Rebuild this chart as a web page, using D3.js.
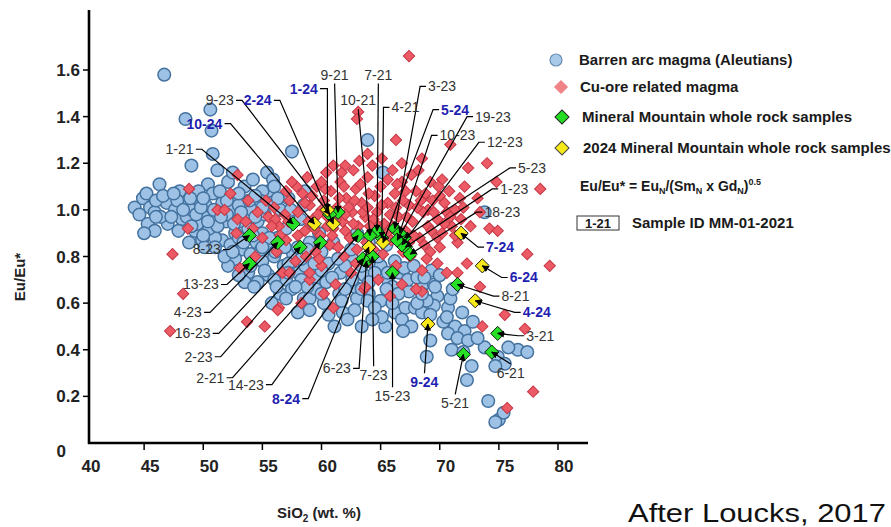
<!DOCTYPE html>
<meta charset="utf-8">
<script src="https://d3js.org/d3.v7.min.js"></script>
<style>
  body { margin: 0; background: #fff; }
  svg text { font-family: 'Liberation Sans Narrow', 'Arial Narrow', 'Liberation Sans', sans-serif; }
</style>
<div id="my_dataviz"></div>
<script>
  // ---- data (SiO2 wt.%, Eu/Eu*) ----
  var barrenPts = [
    [46.7,1.58],[48.5,1.39],[50.6,1.43],[50.7,1.34],[49.0,1.19],[50.8,1.24],[57.5,1.25],[46.3,1.11],[51.2,1.17],[55.4,1.16],
    [63.9,1.30],[65.2,1.16],[55.9,1.13],[55.5,1.08],[58.6,1.08],[73.8,0.99],
    [44.2,1.01],[44.9,1.05],[45.5,1.01],[45.9,0.99],[45.3,0.94],[45.9,0.91],[46.9,1.03],[47.6,1.00],[48.2,0.96],[49.3,0.91],
    [50.1,0.97],[50.4,1.11],[52.1,1.12],[52.7,1.06],[51.6,1.03],[49.3,1.05],[48.5,1.03],[49.9,0.87],[51.6,0.87],[52.7,0.90],
    [53.3,0.83],[52.7,0.79],[53.8,0.73],[53.5,0.69],[54.6,0.69],[52.1,0.76],[51.0,0.88],[50.1,0.84],[48.0,1.08],[48.6,0.97],
    [49.0,1.00],[49.6,1.08],[50.2,1.02],[50.8,1.07],[51.3,0.99],[51.9,0.95],[52.4,1.00],[53.0,1.02],[53.5,0.97],[54.1,1.00],
    [54.6,0.95],[55.2,0.98],[49.5,0.94],[50.5,0.92],[51.2,0.93],[52.3,0.85],[53.0,0.88],[53.8,0.92],[54.5,0.86],[55.0,0.90],
    [55.7,0.85],[56.3,0.88],[54.0,0.81],[55.0,0.78],[56.0,0.80],[56.8,0.76],[55.5,0.72],[57.0,0.70],[58.0,0.73],[57.5,0.66],
    [56.5,0.64],[55.8,0.60],[58.5,0.62],[52.5,1.16],[53.5,1.10],[54.2,1.13],[55.0,1.08],[56.0,1.10],[55.8,1.03],[56.5,1.00],
    [57.2,1.05],[57.8,0.98],[58.5,1.02],[47.0,0.94],[47.9,0.91],[46.4,0.97],[48.8,0.86],[54.3,0.67],[53.0,0.95],[54.8,1.04],
    [52.0,0.98],
    [44.6,0.98],[45.2,1.07],[46.0,1.04],[46.6,1.06],[47.3,0.97],[47.8,1.04],[48.3,1.00],[48.9,1.05],[49.4,0.98],[49.8,1.01],
    [50.4,0.95],[50.9,1.00],[51.5,0.97],[52.0,1.04],[52.6,0.94],[53.2,0.99],[53.9,1.04],[54.4,0.97],[55.0,1.01],[49.0,0.93],
    [50.0,0.89],[51.0,0.84],[51.8,0.80],[52.5,0.82],[53.4,0.86],[54.2,0.89],[54.9,0.83],[55.6,0.88],[56.4,0.84],[53.0,0.72],
    [54.0,0.76],[55.2,0.74],[56.0,0.70],[57.0,0.62],[56.2,0.67],[58.0,0.56],[59.0,0.62],[57.6,0.81],[58.6,0.76],[59.6,0.71],
    [60.6,0.77],[61.6,0.73],[62.6,0.79],[63.6,0.72],[64.6,0.76],[65.6,0.70],[66.6,0.73],[63.0,0.62],[64.0,0.64],[65.0,0.61],
    [66.2,0.56],[65.4,0.50],[61.8,0.56],[60.2,0.60],[59.5,0.66],[61.5,0.64],[62.8,0.67],[60.4,0.69],[58.3,0.70],[67.4,0.65],
    [68.6,0.68],[69.8,0.63],[70.3,0.52],[69.5,0.59],[66.0,0.67],[67.0,0.75],[64.0,0.86],[65.0,0.76],[57.0,0.92],[58.2,0.96],
    [59.0,0.86],[56.3,1.05],[57.4,1.00],[54.4,1.06],[53.0,1.07],[51.4,1.08],[50.0,1.05],[47.5,1.07],[46.0,0.97],[45.0,0.90],
    [55.0,0.84],[56.1,0.82],[57.2,0.77],[58.3,0.79],[60.0,0.74],[60.9,0.71],[62.0,0.76],[62.6,0.70],[63.4,0.66],[63.9,0.61],
    [64.5,0.58],[65.1,0.54],[64.3,0.53],[62.8,0.57],[61.7,0.61],[61.1,0.50],[60.0,0.64],[58.8,0.67],[57.8,0.67],[57.2,0.73],
    [66.5,0.64],[67.1,0.58],[67.9,0.58],[66.8,0.53],[67.6,0.50],[68.5,0.56],[67.3,0.70],[68.1,0.71],[65.6,0.73],[64.5,0.73],
    [63.4,0.76],[61.4,0.79],[60.0,0.82],[58.8,0.83],[58.0,0.84],[56.9,0.84],[63.4,0.50],[66.9,0.48],[65.5,0.66],[64.0,0.69],
    [62.0,0.66],[59.4,0.77],[61.0,0.86],[62.5,0.83],[64.8,0.80],[66.2,0.78],[67.8,0.76],[69.3,0.74],[59.0,0.57],[60.6,0.55],
    [62.2,0.53],[66.0,0.60],[68.9,0.61],[68.1,0.60],[69.5,0.68],[63.0,0.90],[59.8,0.90],[65.5,0.85],
    [68.7,0.71],[69.6,0.67],[68.5,0.64],[70.7,0.58],[71.9,0.56],[70.6,0.54],[71.3,0.50],[72.1,0.48],[70.7,0.47],[71.5,0.45],
    [72.4,0.44],[71.0,0.40],[72.0,0.39],[72.7,0.33],[72.3,0.27],[73.8,0.41],[74.9,0.37],[75.5,0.34],[76.6,0.40],[77.4,0.39],
    [74.7,0.33],[69.2,0.44],[68.9,0.37],[74.1,0.18],[75.0,0.10],[75.4,0.13],[74.7,0.09],[70.9,0.62],[70.0,0.72],[69.2,0.55],
    [73.2,0.45],[75.8,0.41],[72.8,0.52],[71.1,0.66]
  ];

  var cuOrePts = [
    [67.4,1.66],[63.1,1.42],[63.0,1.39],[66.3,1.30],[63.9,1.24],[62.0,1.19],[61.7,1.16],[68.5,1.22],[70.9,1.28],[72.4,1.18],
    [74.0,1.20],[78.5,1.09],[72.1,1.10],[74.8,1.12],[70.2,1.13],[70.4,1.03],[72.0,1.01],[73.4,0.99],[74.2,0.92],[74.9,0.91],
    [77.4,0.81],[79.3,0.76],[72.3,0.77],[70.6,0.73],[73.4,0.67],[68.5,0.65],[75.5,0.55],[73.6,0.50],[77.2,0.49],[77.9,0.22],
    [75.7,0.15],[71.5,0.86],[71.3,0.89],[69.8,0.88],[70.0,0.84],[69.2,0.82],[68.9,0.79],[69.8,0.77],[71.5,0.73],[68.7,1.06],
    [69.0,1.00],
    [48.3,0.64],[47.2,0.48],[53.7,0.52],[55.2,0.50],[56.4,0.58],[47.4,0.81],[48.7,0.92],[48.8,1.09],[52.9,1.15],[52.3,1.07],
    [53.8,1.04],[51.2,1.00],[51.8,1.00],[52.9,0.96],
    [55.5,0.97],[56.0,1.01],[56.4,0.93],[56.9,0.98],[57.3,1.04],[57.6,0.94],[58.0,0.99],[58.4,1.07],[58.6,0.91],[59.0,1.02],
    [59.3,0.96],[59.6,1.10],[59.9,0.89],[60.2,1.04],[60.5,0.97],[60.8,1.08],[61.0,0.92],[61.3,1.01],[61.6,1.12],[61.8,0.95],
    [62.1,1.05],[62.4,0.88],[62.6,0.99],[62.9,1.09],[63.1,0.93],[63.4,1.03],[63.7,0.97],[63.9,1.14],[64.2,0.90],[64.5,1.06],
    [64.7,0.99],[65.0,1.10],[65.3,0.94],[65.6,1.03],[65.9,0.87],[66.2,1.07],[66.5,0.97],[66.8,1.12],[67.1,0.91],[67.4,1.02],
    [67.7,0.95],[68.0,1.08],[68.3,0.88],[68.6,0.99],[69.0,0.93],[69.4,1.04],[69.8,0.96],[70.2,0.90],[70.6,0.99],[71.0,0.93],
    [57.0,0.87],[58.2,0.84],[59.5,0.82],[60.7,0.85],[61.9,0.80],[63.0,0.83],[64.0,0.78],[65.2,0.81],[66.3,0.76],[67.5,0.80],
    [68.5,0.74],[55.0,0.88],[54.2,0.92],[56.2,0.82],[57.8,0.78],[60.0,0.76],[62.5,0.73],[64.8,0.70],[66.8,0.68],[68.0,0.66],
    [58.8,1.14],[60.4,1.16],[62.7,1.17],[64.3,1.19],[66.0,1.17],[67.6,1.15],[69.2,1.12],[57.9,1.10],[55.3,1.04],[54.6,0.99],
    [53.6,0.95],[52.8,0.90],[56.7,0.73],[59.0,0.70],[61.2,0.68],[63.6,0.66],[65.8,0.63],[54.4,0.80],[53.1,0.75],[58.3,0.60],
    [61.0,0.58],[60.2,0.64],[56.3,0.57],[59.0,0.73],[57.3,0.73],[63.7,0.67],
    [57.0,1.08],[58.9,0.95],[60.0,1.00],[61.2,0.96],[62.3,1.01],[63.5,0.99],[64.6,0.94],[65.8,0.98],[66.9,1.04],[68.1,1.01],
    [59.2,1.06],[61.9,1.10],[64.0,1.07],[66.4,1.11],[68.8,1.07],[62.0,0.91],[63.8,0.86],[65.5,0.90],[67.8,0.89],[60.5,0.93],
    [58.0,0.89],[56.1,0.96],[70.0,1.06],[71.3,1.00],[70.8,1.08],
    [57.5,1.12],[58.6,1.03],[59.7,0.98],[60.3,1.09],[61.5,1.05],[62.0,0.98],[62.8,1.04],[63.3,1.11],[63.9,1.01],[64.4,0.96],
    [65.1,1.02],[65.6,1.13],[66.3,1.01],[67.1,1.08],[67.2,0.97],[68.4,1.04],[69.5,0.99],[69.9,1.10],[70.9,0.97],[59.4,0.92],
    [60.9,0.89],[62.7,0.94],[64.1,0.93],[66.0,0.93],[67.4,0.86],[68.7,0.85],[57.2,0.95],[56.5,0.89],[55.8,0.93],[60.0,1.12],
    [61.0,1.19],[63.2,1.21],[65.1,1.22],[66.8,1.20],[68.2,1.17],[61.4,0.84],[62.9,0.77],[64.4,0.83],[66.9,0.82],[59.8,0.79],
    [58.7,0.80],[70.4,0.94],[71.8,0.96],[72.6,0.93],[71.7,1.05],[73.2,1.05],[69.3,0.91]
  ];

  // Mineral Mountain whole rock samples (2021 / 2023)
  var mmIds  = ["1-21","2-21","3-21","4-21","5-21","6-21","7-21","8-21","9-21","10-21",
                "1-23","2-23","3-23","4-23","5-23","6-23","7-23","8-23","9-23","10-23",
                "12-23","13-23","14-23","15-23","16-23","18-23","19-23"];
  var mmSiO2 = [57.6,63.1,74.9,65.1,72.0,74.4,64.7,71.5,61.4,64.1,
                67.1,59.9,66.2,56.3,67.0,63.8,64.3,53.9,60.7,66.6,
                66.8,53.9,63.5,66.0,58.2,67.5,66.4];
  var mmEu   = [0.94,0.89,0.47,0.88,0.38,0.39,0.91,0.68,0.99,0.89,
                0.84,0.86,0.92,0.86,0.88,0.78,0.80,0.89,0.98,0.90,
                0.85,0.77,0.79,0.73,0.84,0.81,0.87];

  // 2024 Mineral Mountain whole rock samples
  var mm24Ids  = ["1-24","2-24","4-24","5-24","6-24","7-24","8-24","9-24","10-24"];
  var mm24SiO2 = [60.5,61.0,73.0,65.2,73.6,71.8,64.0,69.0,59.4];
  var mm24Eu   = [1.00,0.94,0.61,0.86,0.76,0.90,0.84,0.51,0.94];

  // sample label placement (in data units) and side the leader line leaves from
  var annIds  = ["9-23","2-24","10-24","1-21","8-23","13-23","4-23","16-23","2-23","2-21","14-23","8-24",
                 "6-23","7-23","15-23","9-24","5-21","6-21","3-21","4-24","8-21","6-24","7-24","18-23",
                 "1-23","5-23","12-23","10-23","19-23","5-24","3-23","4-21","7-21","10-21","9-21","1-24"];
  var annX    = [51.4,54.6,50.1,48.0,50.3,49.8,48.7,49.1,49.6,50.6,53.6,57.0,
                 61.3,64.4,66.0,68.7,71.3,76.0,78.5,78.2,76.4,77.1,75.1,75.3,
                 76.3,77.8,75.5,71.5,74.5,71.3,70.2,67.1,64.8,63.1,61.1,58.5];
  var annY    = [1.47,1.47,1.37,1.26,0.83,0.68,0.56,0.47,0.37,0.28,0.25,0.19,
                 0.32,0.29,0.20,0.26,0.17,0.30,0.46,0.56,0.63,0.71,0.84,0.99,
                 1.09,1.18,1.29,1.32,1.40,1.43,1.53,1.44,1.58,1.47,1.58,1.52];
  var annSide = ["r","r","r","r","r","r","r","r","r","r","r","r",
                 "r","t","t","t","t","t","l","l","l","l","l","l",
                 "l","l","l","l","l","l","l","lv","b","b","b","rv"];

  var yTicks = [0, 0.2, 0.4, 0.6, 0.8, 1.0, 1.2, 1.4, 1.6];
  var xTicks = [40, 45, 50, 55, 60, 65, 70, 75, 80];

  var legendLabels = ["Barren arc magma (Aleutians)", "Cu-ore related magma",
                      "Mineral Mountain whole rock samples", "2024 Mineral Mountain whole rock samples"];

  // ---- layout ----
  var width = 891, height = 527;
  var x = d3.scaleLinear().domain([40, 80]).range([85, 558]);
  var y = d3.scaleLinear().domain([0, 1.6]).range([443, 70]);
  var axisX0 = 89, yTop = 10, xRight = 588;

  var svg = d3.select("#my_dataviz")
    .append("svg")
    .attr("width", width)
    .attr("height", height);

  var defs = svg.append("defs");
  defs.append("marker")
    .attr("id", "arrow")
    .attr("viewBox", "0 0 10 10")
    .attr("refX", 9).attr("refY", 5)
    .attr("markerWidth", 7).attr("markerHeight", 7)
    .attr("markerUnits", "userSpaceOnUse")
    .attr("orient", "auto")
    .append("path")
    .attr("d", "M0,0 L10,5 L0,10 z")
    .attr("fill", "#000");

  function diamond(s) { return d3.symbol().type(d3.symbolSquare).size(s * s)(); }

  // barren arc magma
  svg.selectAll("circle.barren")
    .data(barrenPts)
    .enter()
    .append("circle")
    .attr("class", "barren")
    .attr("cx", function (d) { return x(d[0]); })
    .attr("cy", function (d) { return y(d[1]); })
    .attr("r", 6.3)
    .attr("fill", "#9dc2e5")
    .attr("stroke", "#44729f")
    .attr("stroke-width", 1.5);

  // Cu-ore related
  svg.selectAll("path.cu")
    .data(cuOrePts)
    .enter()
    .append("path")
    .attr("class", "cu")
    .attr("d", diamond(8))
    .attr("transform", function (d) { return "translate(" + x(d[0]) + "," + y(d[1]) + ") rotate(45)"; })
    .attr("fill", "#ec5b65")
    .attr("stroke", "#c53644")
    .attr("stroke-width", 1);

  var samples = [];
  mmIds.forEach(function (id, i) { samples.push({ id: id, sx: mmSiO2[i], sy: mmEu[i], yr: 0 }); });
  mm24Ids.forEach(function (id, i) { samples.push({ id: id, sx: mm24SiO2[i], sy: mm24Eu[i], yr: 1 }); });
  var byId = {};
  samples.forEach(function (s) { byId[s.id] = s; });

  svg.selectAll("path.mm")
    .data(samples)
    .enter()
    .append("path")
    .attr("class", "mm")
    .attr("d", diamond(10))
    .attr("transform", function (d) { return "translate(" + x(d.sx) + "," + y(d.sy) + ") rotate(45)"; })
    .attr("fill", function (d) { return d.yr ? "#f7e81a" : "#25e025"; })
    .attr("stroke", "#111")
    .attr("stroke-width", 0.9);

  // axes
  svg.append("line")
    .attr("x1", axisX0).attr("x2", axisX0)
    .attr("y1", yTop).attr("y2", y(0) + 1)
    .attr("stroke", "#000").attr("stroke-width", 2.6);
  svg.append("line")
    .attr("x1", axisX0 - 1).attr("x2", xRight)
    .attr("y1", y(0)).attr("y2", y(0))
    .attr("stroke", "#000").attr("stroke-width", 2.6);

  svg.selectAll("line.ytick")
    .data(yTicks.filter(function (d) { return d > 0; }))
    .enter().append("line")
    .attr("x1", axisX0 - 6).attr("x2", axisX0)
    .attr("y1", function (d) { return y(d); }).attr("y2", function (d) { return y(d); })
    .attr("stroke", "#000").attr("stroke-width", 1.5);
  svg.selectAll("text.ytick")
    .data(yTicks)
    .enter().append("text")
    .attr("x", function (d) { return d === 0 ? 66 : 80; })
    .attr("y", function (d) { return d === 0 ? y(d) + 8 : y(d); })
    .attr("dy", "0.36em")
    .attr("text-anchor", "end")
    .style("font-size", "17px").style("font-weight", "bold").style("fill", "#222")
    .text(function (d) { return d === 0 ? "0" : d.toFixed(1); });

  svg.selectAll("line.xtick")
    .data(xTicks.filter(function (d) { return d > 40; }))
    .enter().append("line")
    .attr("x1", function (d) { return x(d); }).attr("x2", function (d) { return x(d); })
    .attr("y1", y(0)).attr("y2", y(0) + 7)
    .attr("stroke", "#000").attr("stroke-width", 1.5);
  svg.selectAll("text.xtick")
    .data(xTicks)
    .enter().append("text")
    .attr("x", function (d) { return x(d) + 6; })
    .attr("y", 472)
    .attr("text-anchor", "middle")
    .style("font-size", "17px").style("font-weight", "bold").style("fill", "#222")
    .text(function (d) { return d; });

  // axis titles
  svg.append("text")
    .attr("transform", "translate(25,277) rotate(-90)")
    .attr("text-anchor", "middle")
    .style("font-size", "15px").style("font-weight", "bold").style("fill", "#222")
    .text("Eu/Eu*");
  var xt = svg.append("text")
    .attr("x", 277).attr("y", 518)
    .style("font-size", "15px").style("font-weight", "bold").style("fill", "#222");
  xt.append("tspan").text("SiO");
  xt.append("tspan").attr("dy", 4).style("font-size", "10px").text("2");
  xt.append("tspan").attr("dy", -4).text(" (wt. %)");

  svg.append("text")
    .attr("x", 628).attr("y", 522)
    .attr("textLength", 258).attr("lengthAdjust", "spacingAndGlyphs")
    .style("font-family", "'Liberation Sans', Arial, sans-serif")
    .style("font-size", "25px").style("fill", "#111")
    .text("After Loucks, 2017");

  // sample labels with leader lines
  var ann = svg.append("g");
  annIds.forEach(function (id, i) {
    var s = byId[id];
    var t = ann.append("text")
      .attr("x", x(annX[i])).attr("y", y(annY[i]))
      .attr("dy", "0.35em")
      .attr("text-anchor", "middle")
      .style("font-size", "14px")
      .style("font-weight", s.yr ? "bold" : "normal")
      .style("fill", s.yr ? "#1f1fb0" : "#333")
      .text(id);
    var b = t.node().getBBox();
    var cy = y(annY[i]);
    var mx = x(s.sx), my = y(s.sy);
    var pts;
    var side = annSide[i];
    if (side === "r") pts = [[b.x + b.width + 2, cy], [b.x + b.width + 8, cy], [mx, my]];
    else if (side === "l") pts = [[b.x - 2, cy], [b.x - 8, cy], [mx, my]];
    else if (side === "t") pts = [[b.x + b.width / 2, b.y - 1], [mx, my]];
    else if (side === "b") pts = [[b.x + b.width / 2, b.y + b.height + 1], [mx, my]];
    else if (side === "rv") pts = [[b.x + b.width + 2, cy], [mx, cy], [mx, my]];
    else pts = [[b.x - 2, cy], [b.x - 8, cy], [b.x - 8, cy + 6], [mx, my]];
    ann.append("polyline")
      .attr("points", pts.map(function (p) { return p.join(","); }).join(" "))
      .attr("fill", "none")
      .attr("stroke", "#000")
      .attr("stroke-width", 1.2)
      .attr("marker-end", "url(#arrow)");
  });

  // legend
  var lg = svg.append("g");
  var legY = [60, 87, 117, 148];
  var legX = [579, 580, 582, 583];
  lg.append("circle").attr("cx", 556).attr("cy", legY[0]).attr("r", 6)
    .attr("fill", "#a9c9e8").attr("stroke", "#6a90b8").attr("stroke-width", 1.2);
  lg.append("path").attr("d", diamond(10))
    .attr("transform", "translate(561," + legY[1] + ") rotate(45)")
    .attr("fill", "#f08385");
  lg.append("path").attr("d", diamond(10))
    .attr("transform", "translate(562," + legY[2] + ") rotate(45)")
    .attr("fill", "#22dd22").attr("stroke", "#222").attr("stroke-width", 1);
  lg.append("path").attr("d", diamond(10))
    .attr("transform", "translate(562," + legY[3] + ") rotate(45)")
    .attr("fill", "#f7e81a").attr("stroke", "#444").attr("stroke-width", 1);
  lg.selectAll("text.leg")
    .data(legendLabels)
    .enter().append("text")
    .attr("x", function (d, i) { return legX[i]; })
    .attr("y", function (d, i) { return legY[i]; })
    .attr("dy", "0.35em")
    .style("font-size", "15px").style("font-weight", "bold").style("fill", "#1a1a1a")
    .text(function (d) { return d; });

  var f = lg.append("text").attr("x", 580).attr("y", 191)
    .style("font-size", "14px").style("font-weight", "bold").style("fill", "#1a1a1a");
  f.append("tspan").text("Eu/Eu* = Eu");
  f.append("tspan").attr("dy", 3).style("font-size", "9px").text("N");
  f.append("tspan").attr("dy", -3).text("/(Sm");
  f.append("tspan").attr("dy", 3).style("font-size", "9px").text("N");
  f.append("tspan").attr("dy", -3).text(" x Gd");
  f.append("tspan").attr("dy", 3).style("font-size", "9px").text("N");
  f.append("tspan").attr("dy", -3).text(")");
  f.append("tspan").attr("dy", -6).style("font-size", "9px").text("0.5");

  lg.append("rect").attr("x", 577).attr("y", 216).attr("width", 42).attr("height", 14)
    .attr("fill", "#fff").attr("stroke", "#333").attr("stroke-width", 1);
  lg.append("text").attr("x", 598).attr("y", 223).attr("dy", "0.36em")
    .attr("text-anchor", "middle")
    .style("font-size", "13px").style("font-weight", "bold").style("fill", "#1a1a1a")
    .text("1-21");
  lg.append("text").attr("x", 632).attr("y", 223).attr("dy", "0.36em")
    .style("font-size", "15px").style("font-weight", "bold").style("fill", "#1a1a1a")
    .text("Sample ID MM-01-2021");
</script>
